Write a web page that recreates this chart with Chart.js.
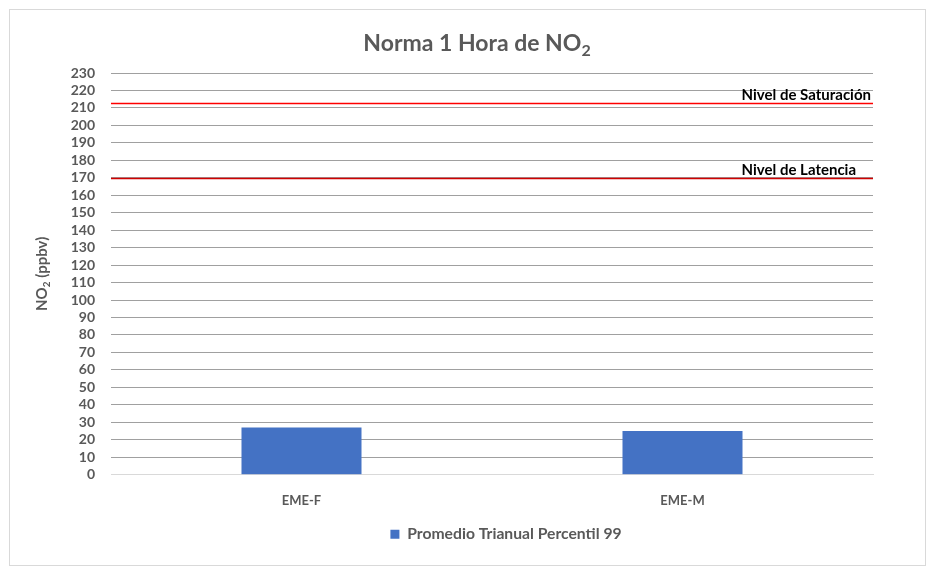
<!DOCTYPE html>
<html>
<head>
<meta charset="utf-8">
<script src="https://cdn.jsdelivr.net/npm/chart.js@4"></script>
<style>
    html, body { margin: 0; padding: 0; background: #fff; }
    .frame {
        position: absolute; left: 9px; top: 9px;
        width: 915px; height: 555px;
        border: 1px solid #d9d9d9;
    }
    canvas { display: block; }
</style>
</head>
<body>
<div class="frame"><canvas id="chart" width="915" height="555"></canvas></div>
<script>
// datos
const categories = ['EME-F', 'EME-M'];
const promedioP99 = [27, 25];
const seriesLabel = 'Promedio Trianual Percentil 99';
const yTicks = { min: 0, max: 230, step: 10 };
const limitValues = [213, 170];
const limitLabels = ['Nivel de Saturación', 'Nivel de Latencia'];
const limitColors = ['#ff0000', '#d00000'];
const titleParts = ['Norma 1 Hora de NO', '2'];
const yTitleParts = ['NO', '2', ' (ppbv)'];

const grayText = '#595959';
const fontFamily = 'Lato, "Open Sans", "Liberation Sans", sans-serif';

// texto con subíndice
function drawSubText(ctx, parts, size, x, y) {
    const big = 'bold ' + size + 'px ' + fontFamily;
    const small = 'bold ' + Math.round(size * 0.68) + 'px ' + fontFamily;
    let widths = parts.map((p, i) => {
        ctx.font = i % 2 === 1 ? small : big;
        return ctx.measureText(p).width;
    });
    let total = widths.reduce((a, b) => a + b, 0);
    let cx = x - total / 2;
    ctx.textAlign = 'left';
    ctx.textBaseline = 'alphabetic';
    parts.forEach((p, i) => {
        ctx.font = i % 2 === 1 ? small : big;
        ctx.fillText(p, cx, i % 2 === 1 ? y + size * 0.22 : y);
        cx += widths[i];
    });
}

// líneas de norma y títulos
const normLines = {
    id: 'normLines',
    afterLayout(chart) {
        // la leyenda de Excel va un poco a la derecha
        if (chart.legend) {
            chart.legend.left += 34;
            chart.legend.right += 34;
        }
    },
    afterDatasetsDraw(chart) {
        const ctx = chart.ctx;
        const area = chart.chartArea;
        const y = chart.scales.y;
        ctx.save();
        ctx.font = 'bold 15px ' + fontFamily;
        const maxW = Math.max(...limitLabels.map(t => ctx.measureText(t).width));
        limitValues.forEach((v, i) => {
            const py = Math.round(y.getPixelForValue(v)) + 0.5;
            ctx.strokeStyle = limitColors[i];
            ctx.lineWidth = 1.5;
            ctx.beginPath();
            ctx.moveTo(area.left, py);
            ctx.lineTo(area.right, py);
            ctx.stroke();
            ctx.fillStyle = '#000';
            ctx.textAlign = 'left';
            ctx.textBaseline = 'bottom';
            ctx.fillText(limitLabels[i], area.right - 2 - maxW, py - 1);
        });

        ctx.fillStyle = grayText;
        drawSubText(ctx, titleParts, 23, 467, 41);

        ctx.translate(37, (area.top + area.bottom) / 2);
        ctx.rotate(-Math.PI / 2);
        drawSubText(ctx, yTitleParts, 15, 0, 0);
        ctx.restore();
    }
};

const ctx = document.getElementById('chart').getContext('2d');
new Chart(ctx, {
    type: 'bar',
    data: {
        labels: categories,
        datasets: [{
            label: seriesLabel,
            data: promedioP99,
            backgroundColor: '#4472c4',
            borderWidth: 0,
            categoryPercentage: 0.63,
            barPercentage: 0.5
        }]
    },
    options: {
        responsive: false,
        animation: false,
        layout: { padding: { left: 61, right: 52, top: 63, bottom: 13 } },
        plugins: {
            title: { display: false },
            legend: {
                position: 'bottom',
                labels: {
                    color: grayText,
                    boxWidth: 9,
                    boxHeight: 9,
                    padding: 8,
                    font: { family: fontFamily, size: 15.7, weight: 'bold' }
                }
            },
            tooltip: { enabled: false }
        },
        scales: {
            x: {
                grid: { display: false },
                border: { color: '#d9d9d9' },
                ticks: {
                    color: grayText,
                    padding: 10,
                    font: { family: fontFamily, size: 13, weight: 'bold' }
                }
            },
            y: {
                min: yTicks.min,
                max: yTicks.max,
                afterFit(scale) { scale.width = 40; },
                ticks: {
                    stepSize: yTicks.step,
                    autoSkip: false,
                    color: grayText,
                    padding: 16,
                    font: { family: fontFamily, size: 14, weight: 'bold' }
                },
                grid: {
                    drawTicks: false,
                    color: ctx => ctx.tick && ctx.tick.value === 0 ? '#d9d9d9' : '#a0a0a0'
                },
                border: { display: false }
            }
        }
    },
    plugins: [normLines]
});
</script>
</body>
</html>
